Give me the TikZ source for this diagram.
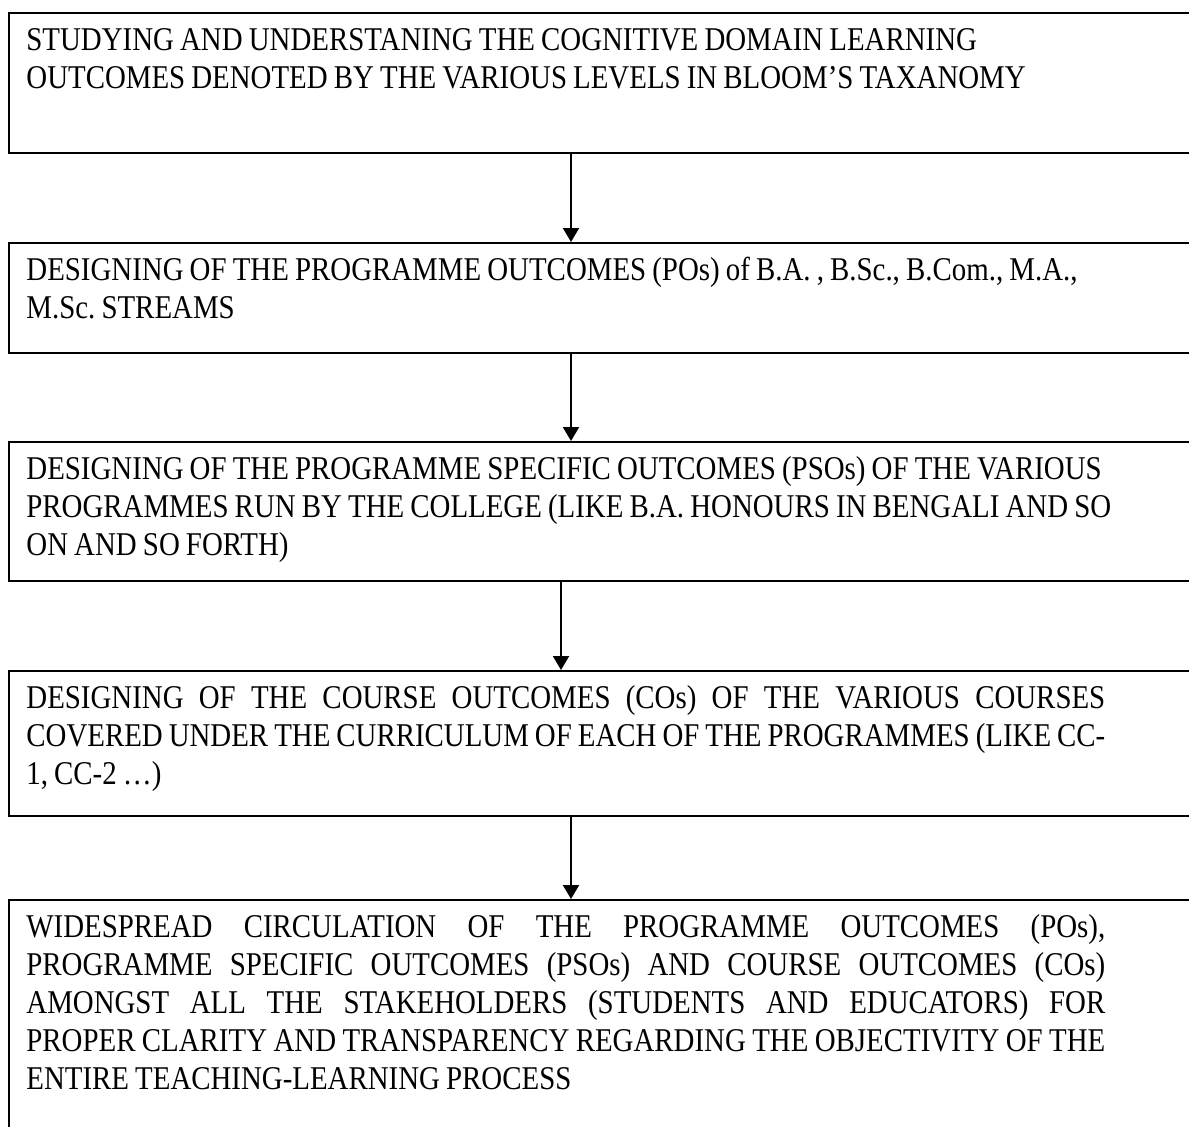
\documentclass[tikz,border=0pt]{standalone}
\usepackage{fontspec}
\setmainfont{Liberation Serif}[FakeStretch=0.87,WordSpace={0.85,2.5,1.2}]
\usetikzlibrary{arrows.meta}
\frenchspacing
\hyphenpenalty=10000
\exhyphenpenalty=10000
\tolerance=10000
\newcommand\stagefont{\fontsize{16.6}{19}\selectfont}

\begin{document}
\begin{tikzpicture}[x=0.5pt,y=-0.5pt,
	stage/.style={draw=black,line width=1pt,anchor=north west,inner sep=0pt,minimum width=596pt},
	words/.style={anchor=north west,inner sep=0pt,text width=580pt,align=flush left,font=\stagefont},
	wordsj/.style={words,text width=539.5pt,align=justify},
	flow/.style={-{Triangle[width=8pt,length=7pt]},line width=1pt}]
	\useasboundingbox (0,0) rectangle (1189,1126);
	\clip (0,0) rectangle (1189,1126);

	\node[stage,minimum height=70pt]   (s1) at (8,12)  {};
	\node[stage,minimum height=55pt]   (s2) at (8,242) {};
	\node[stage,minimum height=69.5pt] (s3) at (8,441) {};
	\node[stage,minimum height=72.5pt] (s4) at (8,670) {};
	\node[stage,minimum height=150pt]  (s5) at (8,899) {};

	\node[words] (t1) at (26,23.4) {\strut STUDYING AND UNDERSTANING THE COGNITIVE DOMAIN LEARNING\\
		OUTCOMES DENOTED BY THE VARIOUS LEVELS IN BLOOM’S TAXANOMY};
	\node[words] (t2) at (26,253.4) {\strut DESIGNING OF THE PROGRAMME OUTCOMES (POs) of B.A. , B.Sc., B.Com., M.A.,\\
		M.Sc. STREAMS};
	\node[words] (t3) at (26,452.4) {\strut DESIGNING OF THE PROGRAMME SPECIFIC OUTCOMES (PSOs) OF THE VARIOUS\\
		PROGRAMMES RUN BY THE COLLEGE (LIKE B.A. HONOURS IN BENGALI AND SO\\
		ON AND SO FORTH)};
	\node[wordsj] (t4) at (26,681.4) {\strut DESIGNING OF THE COURSE OUTCOMES (COs) OF THE VARIOUS COURSES\linebreak
		COVERED UNDER THE CURRICULUM OF EACH OF THE PROGRAMMES (LIKE CC-\linebreak
		1, CC-2 …)};
	\node[wordsj] (t5) at (26,910.4) {\strut WIDESPREAD CIRCULATION OF THE PROGRAMME OUTCOMES (POs),\linebreak
		PROGRAMME SPECIFIC OUTCOMES (PSOs) AND COURSE OUTCOMES (COs)\linebreak
		AMONGST ALL THE STAKEHOLDERS (STUDENTS AND EDUCATORS) FOR\linebreak
		PROPER CLARITY AND TRANSPARENCY REGARDING THE OBJECTIVITY OF THE\linebreak
		ENTIRE TEACHING-LEARNING PROCESS};

	\coordinate (ax) at (571,0);
	\coordinate (bx) at (561,0);
	\draw[flow] (s1.south -| ax) -- (s2.north -| ax);
	\draw[flow] (s2.south -| ax) -- (s3.north -| ax);
	\draw[flow] (s3.south -| bx) -- (s4.north -| bx);
	\draw[flow] (s4.south -| ax) -- (s5.north -| ax);
\end{tikzpicture}
\end{document}
